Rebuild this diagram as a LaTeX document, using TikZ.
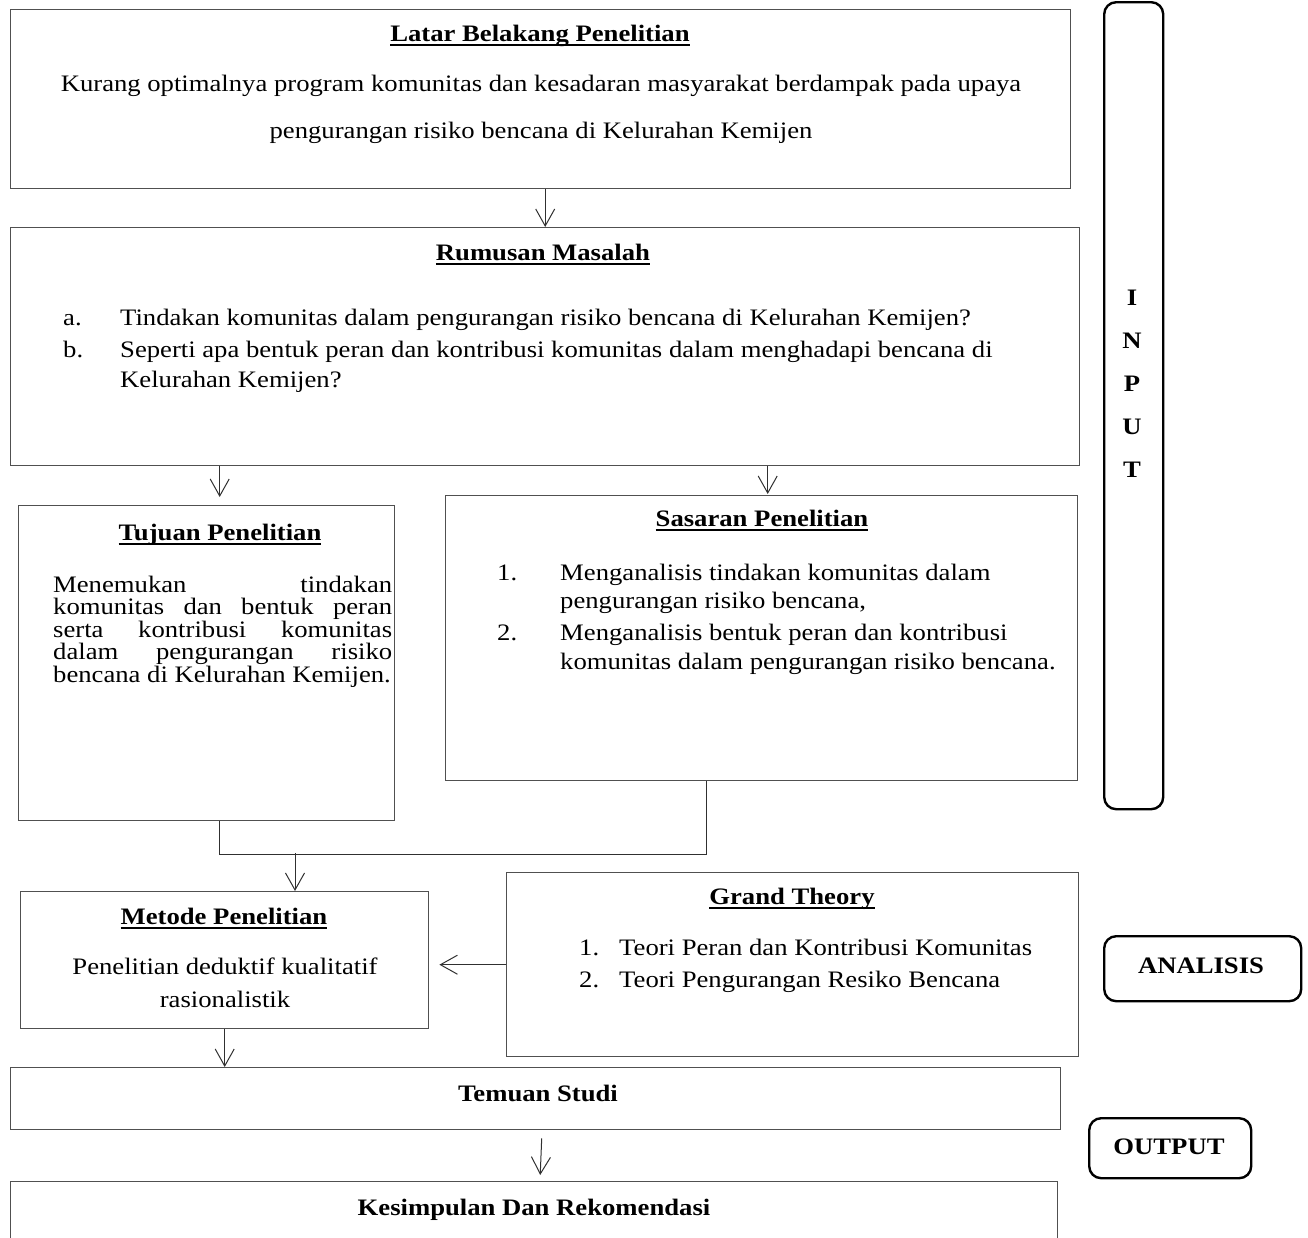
\documentclass[tikz,border=0pt]{standalone}
\usepackage{fontspec}
\setmainfont{Liberation Serif}[FakeStretch=1.13]
\usetikzlibrary{arrows.meta}
\definecolor{boxgray}{HTML}{505050}
\definecolor{arrgray}{HTML}{303030}
\tikzset{
  box/.style={draw=boxgray, line width=1.4pt, rectangle, inner sep=0pt, anchor=north west},
  rbox/.style={draw=black, line width=2.4pt, rectangle, rounded corners=12pt, inner sep=0pt, anchor=north west},
  arr/.style={draw=arrgray, line width=1pt, -{Straight Barb[length=17pt,width=19pt,line width=1pt]}},
  link/.style={draw=arrgray, line width=1.2pt},
  txt/.style={inner sep=0pt, font=\fontsize{23.6}{26}\selectfont},
  ttl/.style={txt, font=\fontsize{23.6}{26}\selectfont\bfseries},
}
\newcommand{\jline}[1]{\makebox[339pt][s]{#1}}
\newcommand{\ulx}[1]{\setbox0\hbox{#1}\rlap{\rule[-4.5pt]{\wd0}{2pt}}\box0}
\begin{document}
\begin{tikzpicture}[x=1pt,y=-1pt]
\useasboundingbox (0,0) rectangle (1308,1237);
% boxes
\node[box, minimum width=1060pt, minimum height=179pt] (latar) at (10,9) {};
\node[box, minimum width=1069pt, minimum height=238pt] (rumusan) at (10,227) {};
\node[box, minimum width=376pt, minimum height=315pt] (tujuan) at (18,505) {};
\node[box, minimum width=632pt, minimum height=285pt] (sasaran) at (445,495) {};
\node[box, minimum width=408pt, minimum height=137pt] (metode) at (20,891) {};
\node[box, minimum width=572pt, minimum height=184pt] (grand) at (506,872) {};
\node[box, minimum width=1050pt, minimum height=62pt] (temuan) at (10,1067) {};
\node[box, minimum width=1047pt, minimum height=90pt] (kesimp) at (10,1181) {};
\node[rbox, minimum width=59pt, minimum height=807pt] (input) at (1103,1) {};
\node[rbox, minimum width=197pt, minimum height=65pt] (analisis) at (1103,935) {};
\node[rbox, minimum width=162pt, minimum height=60pt] (output) at (1088,1117) {};

% Latar
\node[ttl, anchor=base] (latart) at (540,41) {\ulx{Latar Belakang Penelitian}};
\node[txt, anchor=base] (latar1) at (541,91) {Kurang optimalnya program komunitas dan kesadaran masyarakat berdampak pada upaya};
\node[txt, anchor=base] (latar2) at (541,138) {pengurangan risiko bencana di Kelurahan Kemijen};

% Rumusan
\node[ttl, anchor=base] (rumt) at (543,260) {\ulx{Rumusan Masalah}};
\node[txt, anchor=base west] (ruma) at (63,325) {a.};
\node[txt, anchor=base west] (ruma1) at (120,325) {Tindakan komunitas dalam pengurangan risiko bencana di Kelurahan Kemijen?};
\node[txt, anchor=base west] (rumb) at (63,357) {b.};
\node[txt, anchor=base west] (rumb1) at (120,357) {Seperti apa bentuk peran dan kontribusi komunitas dalam menghadapi bencana di};
\node[txt, anchor=base west] (rumb2) at (120,387) {Kelurahan Kemijen?};

% Tujuan
\node[ttl, anchor=base] (tujt) at (220,540) {\ulx{Tujuan Penelitian}};
\node[txt, anchor=base west] (tuj1) at (53,592) {\jline{Menemukan tindakan}};
\node[txt, anchor=base west] (tuj2) at (53,614.5) {\jline{komunitas dan bentuk peran}};
\node[txt, anchor=base west] (tuj3) at (53,637) {\jline{serta kontribusi komunitas}};
\node[txt, anchor=base west] (tuj4) at (53,659.5) {\jline{dalam pengurangan risiko}};
\node[txt, anchor=base west] (tuj5) at (53,682) {bencana di Kelurahan Kemijen.};

% Sasaran
\node[ttl, anchor=base] (sast) at (762,526) {\ulx{Sasaran Penelitian}};
\node[txt, anchor=base west] (sas1n) at (497,580) {1.};
\node[txt, anchor=base west] (sas1) at (560,580) {Menganalisis tindakan komunitas dalam};
\node[txt, anchor=base west] (sas1b) at (560,608) {pengurangan risiko bencana,};
\node[txt, anchor=base west] (sas2n) at (497,640) {2.};
\node[txt, anchor=base west] (sas2) at (560,640) {Menganalisis bentuk peran dan kontribusi};
\node[txt, anchor=base west] (sas2b) at (560,669) {komunitas dalam pengurangan risiko bencana.};

% Metode
\node[ttl, anchor=base] (mett) at (224,924) {\ulx{Metode Penelitian}};
\node[txt, anchor=base] (met1) at (225,974) {Penelitian deduktif kualitatif};
\node[txt, anchor=base] (met2) at (225,1007) {rasionalistik};

% Grand
\node[ttl, anchor=base] (grt) at (792,904) {\ulx{Grand Theory}};
\node[txt, anchor=base west] (gr1n) at (579,955) {1.};
\node[txt, anchor=base west] (gr1) at (619,955) {Teori Peran dan Kontribusi Komunitas};
\node[txt, anchor=base west] (gr2n) at (579,987) {2.};
\node[txt, anchor=base west] (gr2) at (619,987) {Teori Pengurangan Resiko Bencana};

% Single-label boxes
\node[ttl, anchor=base] (temt) at (538,1101) {Temuan Studi};
\node[ttl, anchor=base] (kest) at (534,1215) {Kesimpulan Dan Rekomendasi};
\node[ttl, anchor=base] (anat) at (1201,973) {ANALISIS};
\node[ttl, anchor=base] (outt) at (1169,1154) {OUTPUT};
\node[ttl, anchor=base] (inI) at (1132,305) {I};
\node[ttl, anchor=base] (inN) at (1132,348) {N};
\node[ttl, anchor=base] (inP) at (1132,391) {P};
\node[ttl, anchor=base] (inU) at (1132,434) {U};
\node[ttl, anchor=base] (inT) at (1132,477) {T};

% connectors
\draw[arr] (latar.south -| rumusan.north) -- (rumusan.north);
\draw[arr] ([xshift=13pt]tujuan.north |- rumusan.south) -- ([xshift=13pt,yshift=8pt]tujuan.north);
\draw[arr] ([xshift=6pt]sasaran.north |- rumusan.south) -- ([xshift=6pt,yshift=1pt]sasaran.north);
\draw[link] ([xshift=13pt]tujuan.south) -- ++(0,33) -| ([xshift=-55pt]sasaran.south);
\coordinate (mj) at (295,853);
\draw[arr] (mj) -- (mj |- metode.north);
\draw[arr] (grand.west) -- ([xshift=10pt]grand.west -| metode.east);
\draw[arr] (metode.south) -- (metode.south |- temuan.north);
\draw[arr] ([xshift=6pt,yshift=-8pt]temuan.south) -- ([xshift=6pt,yshift=6pt]kesimp.north);
\end{tikzpicture}
\end{document}
